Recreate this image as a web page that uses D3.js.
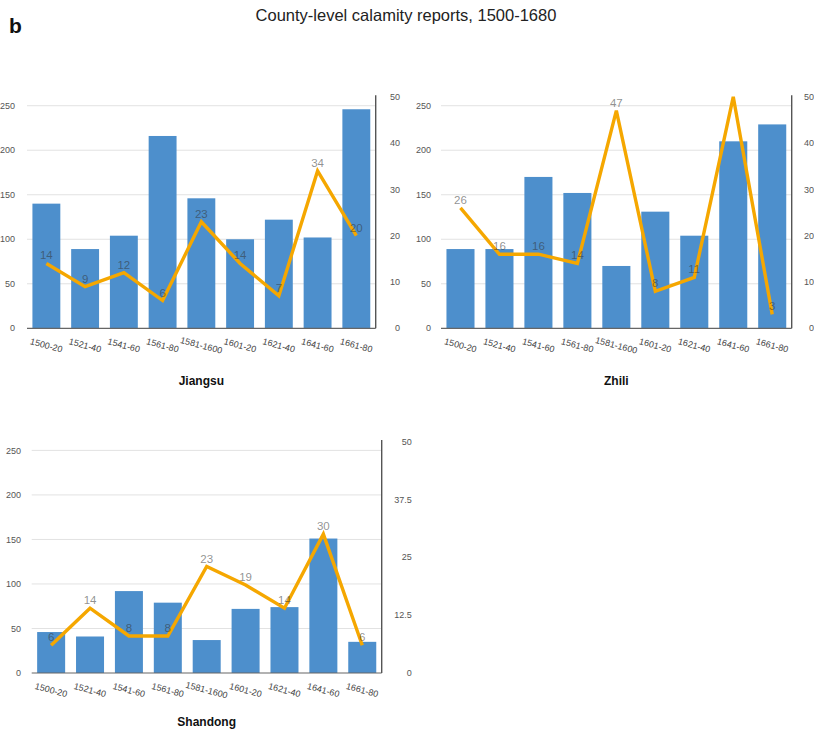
<!DOCTYPE html>
<html>
<head>
<meta charset="utf-8">
<script src="https://cdn.jsdelivr.net/npm/d3@7"></script>
<style>
  html, body { margin: 0; padding: 0; background: #fff; }
  svg { display: block; font-family: "Liberation Sans", Arial, Helvetica, sans-serif; }
</style>
</head>
<body>
<svg id="chart" width="814" height="729"></svg>
<script>
// Twenty-year periods shared by every province
const periods = ["1500-20", "1521-40", "1541-60", "1561-80", "1581-1600", "1601-20", "1621-40", "1641-60", "1661-80"];

// Left axis (bars) and right axis (line) tick values
const leftTicks = [0, 50, 100, 150, 200, 250];
const rightTicksTens = [0, 10, 20, 30, 40, 50];
const rightTicksEighths = [0, 12.5, 25, 37.5, 50];

// Jiangsu
const jiangsuBars = [140, 89, 104, 216, 146, 100, 122, 102, 246];
const jiangsuLine = [14, 9, 12, 6, 23, 14, 7, 34, 20];

// Zhili
const zhiliBars = [89, 89, 170, 152, 70, 131, 104, 210, 229];
const zhiliLine = [26, 16, 16, 14, 47, 8, 11, 50, 3];

// Shandong
const shandongBars = [46, 41, 92, 79, 37, 72, 74, 151, 35];
const shandongLine = [6, 14, 8, 8, 23, 19, 14, 30, 6];

const BAR_COLOR = "#4d8fcc";
const LINE_COLOR = "#f5a700";

const svg = d3.select("#chart");

svg.append("text")
  .attr("x", 9).attr("y", 33)
  .attr("font-size", 21).attr("font-weight", "bold").attr("fill", "#111")
  .text("b");

svg.append("text")
  .attr("x", 406).attr("y", 20.5)
  .attr("text-anchor", "middle")
  .attr("font-size", 16.5).attr("fill", "#222")
  .text("County-level calamity reports, 1500-1680");

const panels = [
  { name: "Jiangsu", bars: jiangsuBars, line: jiangsuLine, rTicks: rightTicksTens,
    x0: 27, x1: 375.7, yTop: 96.8, yBottom: 328.3, leftLabelX: 15, rightLabelX: 400, titleY: 384.5 },
  { name: "Zhili", bars: zhiliBars, line: zhiliLine, rTicks: rightTicksTens,
    x0: 441, x1: 791.7, yTop: 96.8, yBottom: 328.3, leftLabelX: 431, rightLabelX: 814, titleY: 384.5 },
  { name: "Shandong", bars: shandongBars, line: shandongLine, rTicks: rightTicksEighths,
    x0: 31.7, x1: 381.7, yTop: 441.5, yBottom: 673, leftLabelX: 21, rightLabelX: 411.7, titleY: 725.5 }
];

panels.forEach((p, i) => {
  const g = svg.append("g").attr("class", "panel");

  const x = d3.scaleBand().domain(periods).range([p.x0, p.x1])
    .paddingInner(0.28).paddingOuter(0.14);
  const yLeft = d3.scaleLinear().domain([0, 260]).range([p.yBottom, p.yTop]);
  const yRight = d3.scaleLinear().domain([0, 50]).range([p.yBottom, p.yTop]);

  // horizontal gridlines from the left axis
  g.append("g").selectAll("line")
    .data(leftTicks.filter(t => t > 0))
    .join("line")
    .attr("x1", p.x0).attr("x2", p.x1)
    .attr("y1", d => yLeft(d)).attr("y2", d => yLeft(d))
    .attr("stroke", "#e2e2e2").attr("stroke-width", 1);

  // left tick labels
  g.append("g").selectAll("text")
    .data(leftTicks)
    .join("text")
    .attr("x", p.leftLabelX).attr("y", d => yLeft(d))
    .attr("dy", "0.35em").attr("text-anchor", "end")
    .attr("font-size", 9).attr("fill", "#555")
    .text(d => d);

  // bars
  g.append("g").selectAll("rect")
    .data(p.bars)
    .join("rect")
    .attr("x", (d, j) => x(periods[j]))
    .attr("width", x.bandwidth())
    .attr("y", d => yLeft(d))
    .attr("height", d => yLeft(0) - yLeft(d))
    .attr("fill", BAR_COLOR);

  // baseline and right axis line
  g.append("line")
    .attr("x1", p.x0).attr("x2", p.x1)
    .attr("y1", p.yBottom).attr("y2", p.yBottom)
    .attr("stroke", "#666").attr("stroke-width", 1.2);
  g.append("line")
    .attr("x1", p.x1).attr("x2", p.x1)
    .attr("y1", p.yTop - 1.5).attr("y2", p.yBottom)
    .attr("stroke", "#555").attr("stroke-width", 1.4);

  // right tick labels
  g.append("g").selectAll("text")
    .data(p.rTicks)
    .join("text")
    .attr("x", p.rightLabelX).attr("y", d => yRight(d))
    .attr("dy", "0.35em").attr("text-anchor", "end")
    .attr("font-size", 9).attr("fill", "#555")
    .text(d => d);

  // line series on the right axis
  const line = d3.line()
    .x((d, j) => x(periods[j]) + x.bandwidth() / 2)
    .y(d => yRight(d));
  g.append("path")
    .datum(p.line)
    .attr("d", line)
    .attr("fill", "none")
    .attr("stroke", LINE_COLOR)
    .attr("stroke-width", 3.4)
    .attr("stroke-linejoin", "miter");

  // value labels, kept inside the plot area
  const clipId = "plot-clip-" + i;
  svg.append("defs").append("clipPath").attr("id", clipId)
    .append("rect")
    .attr("x", p.x0).attr("y", p.yTop - 3)
    .attr("width", p.x1 - p.x0).attr("height", p.yBottom - p.yTop + 3);
  g.append("g").attr("clip-path", `url(#${clipId})`)
    .selectAll("text")
    .data(p.line)
    .join("text")
    .attr("x", (d, j) => x(periods[j]) + x.bandwidth() / 2)
    .attr("y", d => yRight(d) - 4)
    .attr("text-anchor", "middle")
    .attr("font-size", 11.5)
    .attr("fill", "#333").attr("fill-opacity", 0.55)
    .text(d => d);

  // rotated category labels
  g.append("g").selectAll("text")
    .data(periods)
    .join("text")
    .attr("transform", d => `translate(${x(d) + x.bandwidth() / 2},${p.yBottom + 17}) rotate(15)`)
    .attr("dy", "0.35em")
    .attr("text-anchor", "middle")
    .attr("font-size", 9).attr("fill", "#444")
    .text(d => d);

  // panel title
  g.append("text")
    .attr("x", (p.x0 + p.x1) / 2).attr("y", p.titleY)
    .attr("text-anchor", "middle")
    .attr("font-size", 12).attr("font-weight", "bold").attr("fill", "#111")
    .text(p.name);
});
</script>
</body>
</html>
